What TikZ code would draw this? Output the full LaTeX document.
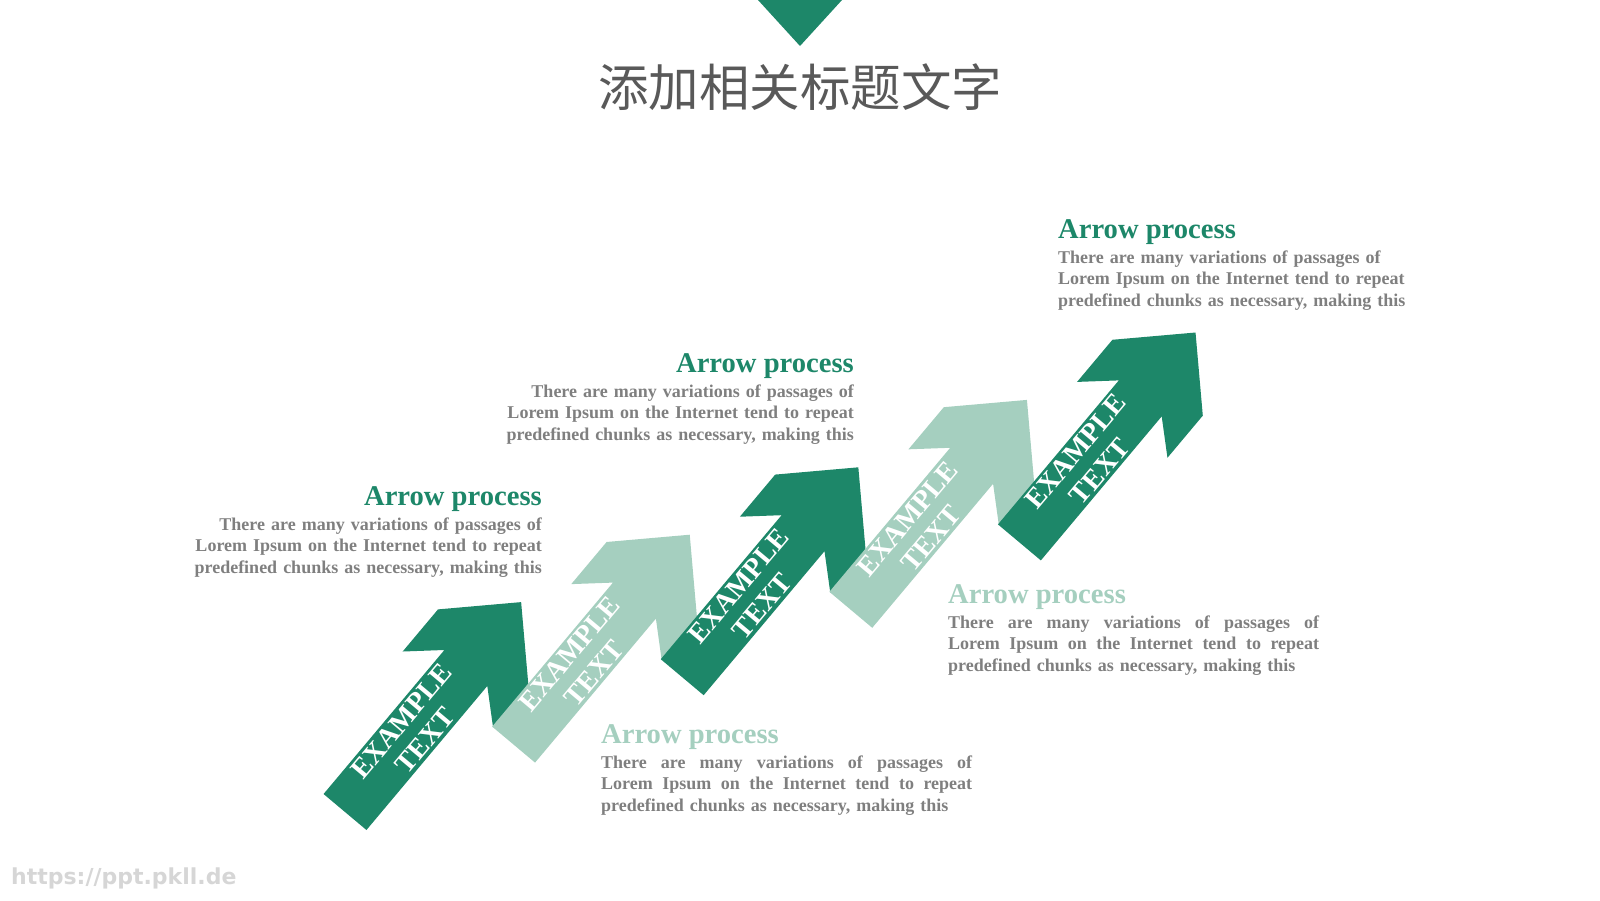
\documentclass[tikz,border=0pt]{standalone}
\usepackage{fontspec}
\setmainfont{Liberation Serif}
\newfontfamily\cjk{Noto Sans CJK SC}
\newfontfamily\urlfont{DejaVu Sans}
\definecolor{deepgreen}{HTML}{1D8769}
\definecolor{palegreen}{HTML}{A5CFBF}
\definecolor{bodygray}{HTML}{7F7F7F}
\definecolor{titlegray}{HTML}{595959}
\def\arrowpath{(0,-28) -- (188,-28) -- (160,-59) -- (215,-59) -- (274,0) -- (215,59) -- (160,59) -- (188,28) -- (0,28) -- cycle}
\def\lineone{There are many variations of passages of}
\def\linetwo{Lorem Ipsum on the Internet tend to repeat}
\def\linethree{predefined chunks as necessary, making this}
\newcommand\spreadline[1]{\leavevmode\hbox to 371pt{\spaceskip=0.25em plus 1fil\relax#1}}
\begin{document}
\begin{tikzpicture}[x=1pt, y=-1pt,
  arrowtext/.style={text=white, font=\bfseries\fontsize{28}{31}\selectfont, align=center, rotate=50, inner sep=0},
  heading/.style={font=\bfseries\fontsize{28.6}{30}\selectfont, inner sep=0},
  body/.style={text=bodygray, font=\bfseries\fontsize{18}{21.8}\selectfont, inner sep=0}]
\useasboundingbox (0,0) rectangle (1600,900);
\fill[deepgreen] (758,0) -- (842,0) -- (800,46) -- cycle;
\node[text=titlegray, font=\cjk\fontsize{50.5}{52}\selectfont, anchor=base, inner sep=0] (title) at (800,106) {添加相关标题文字};
\begin{scope}[shift={(345.0,812.0)}, rotate=50]
\fill[deepgreen] \arrowpath;
\node[arrowtext] (a1) at (106,0) {EXAMPLE\\TEXT};
\end{scope}
\begin{scope}[shift={(513.6,744.6)}, rotate=50]
\fill[palegreen] \arrowpath;
\node[arrowtext] (a2) at (106,0) {EXAMPLE\\TEXT};
\end{scope}
\begin{scope}[shift={(682.2,677.2)}, rotate=50]
\fill[deepgreen] \arrowpath;
\node[arrowtext] (a3) at (106,0) {EXAMPLE\\TEXT};
\end{scope}
\begin{scope}[shift={(850.8,609.8)}, rotate=50]
\fill[palegreen] \arrowpath;
\node[arrowtext] (a4) at (106,0) {EXAMPLE\\TEXT};
\end{scope}
\begin{scope}[shift={(1019.4,542.4)}, rotate=50]
\fill[deepgreen] \arrowpath;
\node[arrowtext] (a5) at (106,0) {EXAMPLE\\TEXT};
\end{scope}
\node[heading, text=deepgreen, anchor=base east] (h1) at (542,505) {Arrow process};
\node[body, anchor=base east, text width=371pt, align=right] (b1) at (542,530) {\lineone\\\linetwo\\\linethree};
\node[heading, text=deepgreen, anchor=base east] (h2) at (854,372) {Arrow process};
\node[body, anchor=base east, text width=371pt, align=right] (b2) at (854,397) {\lineone\\\linetwo\\\linethree};
\node[heading, text=deepgreen, anchor=base west] (h3) at (1058,238) {Arrow process};
\node[body, anchor=base west, text width=371pt, align=left] (b3) at (1058,263) {\lineone\\\linetwo\\\linethree};
\node[heading, text=palegreen, anchor=base west] (h4) at (948,603) {Arrow process};
\node[body, anchor=base west, text width=371pt, align=left] (b4) at (948,628) {\spreadline{\lineone}\\\spreadline{\linetwo}\\\linethree};
\node[heading, text=palegreen, anchor=base west] (h5) at (601,743) {Arrow process};
\node[body, anchor=base west, text width=371pt, align=left] (b5) at (601,768) {\spreadline{\lineone}\\\spreadline{\linetwo}\\\linethree};
\node[text=black!16, font=\urlfont\bfseries\fontsize{22}{24}\selectfont, anchor=base west, inner sep=0] (url) at (11,884) {https://ppt.pkll.de};
\end{tikzpicture}
\end{document}
